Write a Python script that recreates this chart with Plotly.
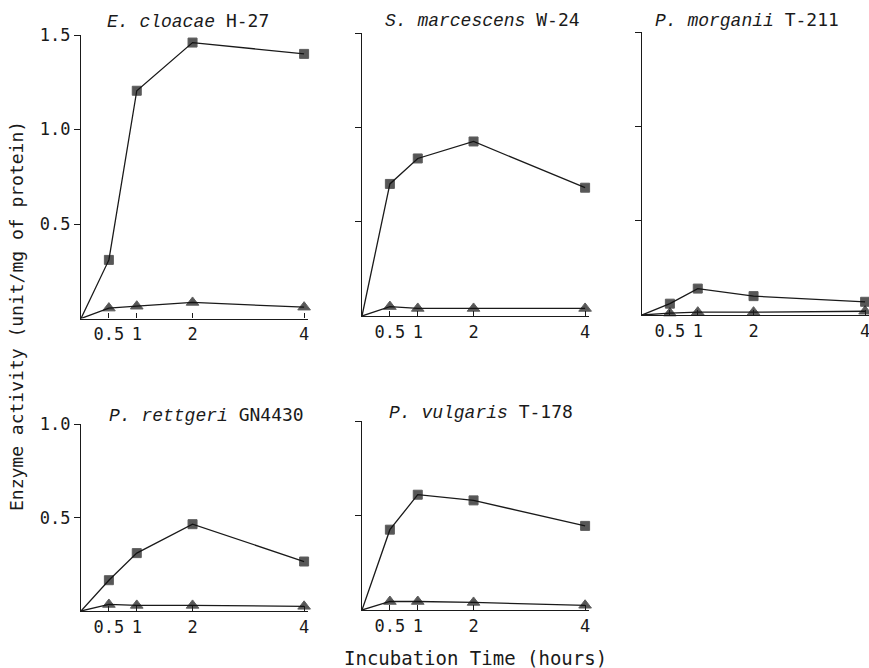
import plotly.graph_objects as go

W, H = 869, 668

# ---- data ----
hours = [0, 0.5, 1, 2, 4]
x_tickvals = [0.5, 1, 2, 4]
x_ticktext = ["0.5", "1", "2", "4"]

species = ["E. cloacae", "S. marcescens", "P. morganii", "P. rettgeri", "P. vulgaris"]
strains = ["H-27", "W-24", "T-211", "GN4430", "T-178"]

squares_ecloacae = [0, 0.31, 1.205, 1.46, 1.40]
triangles_ecloacae = [0, 0.055, 0.065, 0.085, 0.06]

squares_smarcescens = [0, 0.70, 0.835, 0.925, 0.68]
triangles_smarcescens = [0, 0.05, 0.04, 0.04, 0.04]

squares_pmorganii = [0, 0.06, 0.14, 0.10, 0.07]
triangles_pmorganii = [0, 0.01, 0.015, 0.015, 0.02]

squares_prettgeri = [0, 0.165, 0.31, 0.465, 0.265]
triangles_prettgeri = [0, 0.035, 0.03, 0.03, 0.025]

squares_pvulgaris = [0, 0.425, 0.61, 0.58, 0.445]
triangles_pvulgaris = [0, 0.045, 0.045, 0.04, 0.025]

y_ticks_top = [0.5, 1.0, 1.5]
y_ticks_bottom = [0.5, 1.0]

squares = [squares_ecloacae, squares_smarcescens, squares_pmorganii, squares_prettgeri, squares_pvulgaris]
triangles = [triangles_ecloacae, triangles_smarcescens, triangles_pmorganii, triangles_prettgeri, triangles_pvulgaris]


def px(x):
    return x / W


def py(y):
    return (H - y) / H


# ---- layout geometry (screen pixels) ----
# (x_left, x_right, y_top, y_bottom, ymax, show_labels, title_left, title_y)
panels = [
    (81, 308, 35, 318.5, 1.5, True, 105, 21),
    (362, 589, 33, 316, 1.5, False, 383, 20),
    (642, 869, 32, 315, 1.5, False, 653, 20),
    (81, 308, 424.3, 611, 1.0, True, 107, 415),
    (362, 589, 421, 610, 1.0, False, 387, 412),
]

fig = go.Figure()
ink = "#1a1a1a"
mono = "DejaVu Sans Mono"

layout = dict(
    width=W, height=H,
    margin=dict(l=0, r=0, t=0, b=0, autoexpand=False),
    paper_bgcolor="white", plot_bgcolor="white",
    showlegend=False,
    annotations=[],
)

for i, (xl, xr, yt, yb, ymax, show_lab, tl, ty) in enumerate(panels):
    n = i + 1
    xa = "x" if n == 1 else f"x{n}"
    ya = "y" if n == 1 else f"y{n}"
    xkey = "xaxis" if n == 1 else f"xaxis{n}"
    ykey = "yaxis" if n == 1 else f"yaxis{n}"

    fig.add_trace(go.Scatter(
        x=hours, y=squares[i], xaxis=xa, yaxis=ya, mode="lines+markers",
        line=dict(color=ink, width=1.3),
        marker=dict(symbol="square", size=[0, 9, 9, 9, 9], color="#111111"),
        cliponaxis=False,
    ))
    fig.add_trace(go.Scatter(
        x=hours, y=triangles[i], xaxis=xa, yaxis=ya, mode="lines+markers",
        line=dict(color=ink, width=1.3),
        marker=dict(symbol="triangle-up", size=[0, 11, 11, 11, 11], color="#111111"),
        cliponaxis=False,
    ))

    layout[xkey] = dict(
        domain=[px(xl), min(px(xr), 1.0)], anchor=ya, range=[0, 4.07],
        automargin=False, ticklabeloverflow="allow",
        showgrid=False, zeroline=False, showline=True, linecolor=ink, linewidth=1.3,
        ticks="inside", ticklen=5, tickcolor=ink, tickwidth=1.2,
        tickvals=x_tickvals, ticktext=x_ticktext,
        tickfont=dict(family=mono, size=17, color=ink),
    )
    yt_vals = y_ticks_top if ymax > 1.2 else y_ticks_bottom
    layout[ykey] = dict(
        domain=[py(yb), py(yt)], anchor=xa, range=[0, ymax],
        automargin=False,
        showgrid=False, zeroline=False, showline=True, linecolor=ink, linewidth=1.3,
        ticks="outside", ticklen=6, tickcolor=ink, tickwidth=1.2,
        tickvals=yt_vals, ticktext=[f"{v:.1f}" for v in yt_vals],
        showticklabels=show_lab,
        tickfont=dict(family=mono, size=17, color=ink),
    )
    layout["annotations"].append(dict(
        xref="paper", yref="paper", x=px(tl), y=py(ty),
        xanchor="left", yanchor="middle", showarrow=False,
        text=(f"<span style='font-family:Liberation Mono'><i>{species[i]}</i></span> "
              f"<span style='font-family:{mono}'>{strains[i]}</span>"),
        font=dict(family=mono, size=18, color=ink),
    ))

layout["annotations"].append(dict(
    xref="paper", yref="paper", x=px(17), y=py(316),
    xanchor="center", yanchor="middle", showarrow=False, textangle=-90,
    text="Enzyme activity (unit/mg of protein)",
    font=dict(family=mono, size=18, color=ink),
))
layout["annotations"].append(dict(
    xref="paper", yref="paper", x=px(476), y=py(658),
    xanchor="center", yanchor="middle", showarrow=False,
    text="Incubation Time (hours)",
    font=dict(family=mono, size=19, color=ink),
))

fig.update_layout(**layout)
fig.write_html(
    "out.html",
    config={"displayModeBar": False},
    post_script="document.body.style.margin='0';document.body.style.overflow='hidden';",
)
